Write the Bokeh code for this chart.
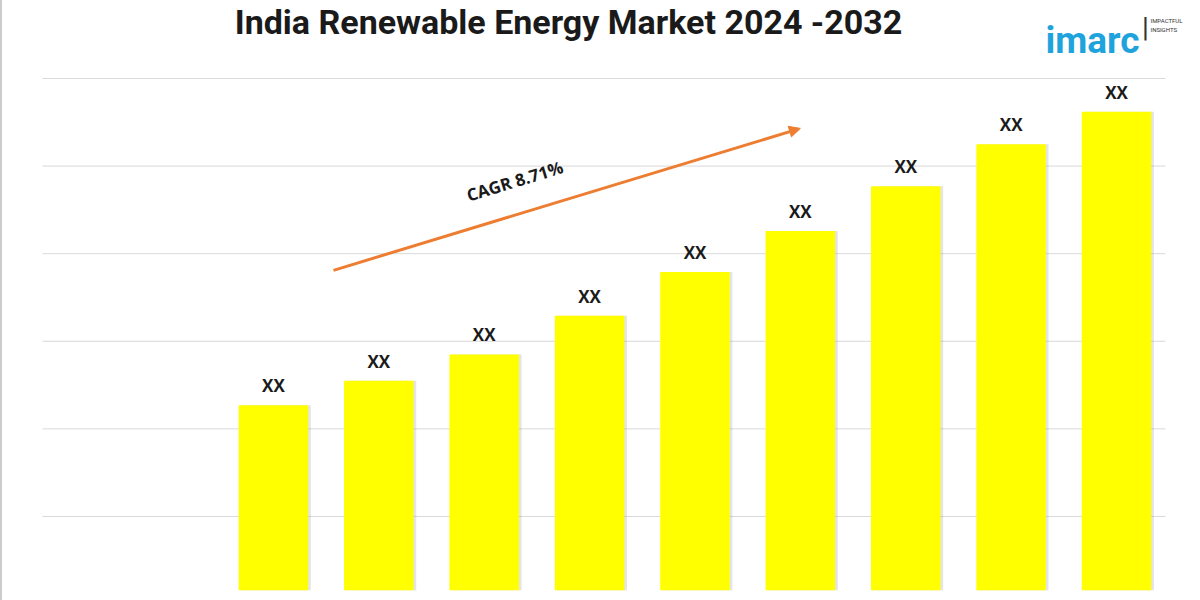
from bokeh.plotting import figure
from bokeh.models import ColumnDataSource, Label, Arrow, NormalHead
from bokeh.transform import dodge
from bokeh.embed import file_html
from bokeh.resources import INLINE
from bokeh.core.properties import value

# Market size by year (relative units; values not disclosed, shown as "XX")
years = [2024, 2025, 2026, 2027, 2028, 2029, 2030, 2031, 2032]
market_size = [2.27, 2.55, 2.85, 3.29, 3.79, 4.26, 4.77, 5.25, 5.62]
bar_labels = ["XX"] * len(years)

# Horizontal guide lines (market units) and their horizontal extent (years)
grid_levels = [1, 2, 3, 4, 5, 6]
grid_x_extent = (2021.808, 2032.465)

title_text = "India Renewable Energy Market 2024 -2032"
cagr_text = "CAGR 8.71%"

# Trend arrow endpoints (x in years, y in market units)
arrow_start = (2024.57, 3.81)
arrow_end = (2029.0, 5.43)
cagr_pos = (2026.29, 4.83)

src = ColumnDataSource(dict(year=years, size=market_size, label=bar_labels))
grid_src = ColumnDataSource(dict(y=grid_levels,
                                 x0=[grid_x_extent[0]] * len(grid_levels),
                                 x1=[grid_x_extent[1]] * len(grid_levels)))

p = figure(width=1198, height=600, output_backend="svg", toolbar_location=None,
           x_range=(2021.429, 2032.797), y_range=(0.155, 6.890),
           min_border_left=0, min_border_right=0, min_border_top=0,
           min_border_bottom=10, outline_line_color=None,
           background_fill_color="white", border_fill_color="white",
           styles={"border-left": "2px solid #cccccc"})

p.xaxis.visible = False
p.yaxis.visible = False
p.xgrid.grid_line_color = None
p.ygrid.grid_line_color = None

p.segment(x0="x0", y0="y", x1="x1", y1="y", source=grid_src,
          line_color="#d9d9d9", line_width=1)

# soft drop shadow behind the bars
p.vbar(x=dodge("year", 0.025, range=p.x_range), top="size", bottom=0,
       width=0.66, source=src, fill_color="#8a8a8a", fill_alpha=0.22,
       line_color=None)
p.vbar(x="year", top="size", bottom=0, width=0.66, source=src,
       fill_color="#FFFF00", line_color=None)

p.text(x="year", y="size", text="label", source=src, text_align="center",
       text_baseline="bottom", y_offset=-8, text_font=value("Open Sans"),
       text_font_style="bold", text_font_size="17px", text_color="#1a1a1a")

p.add_layout(Arrow(end=NormalHead(size=11, fill_color="#ED7D31",
                                  line_color="#ED7D31"),
                   x_start=arrow_start[0], y_start=arrow_start[1],
                   x_end=arrow_end[0], y_end=arrow_end[1],
                   line_color="#ED7D31", line_width=3))

p.add_layout(Label(x=cagr_pos[0], y=cagr_pos[1], text=cagr_text,
                   angle=17, angle_units="deg", text_align="center",
                   text_baseline="middle", text_font="Open Sans",
                   text_font_style="bold", text_font_size="17px",
                   text_color="#1a1a1a"))

# Title (screen units are measured from the frame's bottom-left corner)
p.add_layout(Label(x=566, y=569, x_units="screen", y_units="screen",
                   text=title_text, text_align="center",
                   text_baseline="middle", text_font="Roboto",
                   text_font_style="bold", text_font_size="34px",
                   text_color="#1a1a1a"))

# Brand mark
p.add_layout(Label(x=1090, y=550, x_units="screen", y_units="screen",
                   text="imarc", text_align="center",
                   text_baseline="alphabetic", text_font="Roboto",
                   text_font_style="bold", text_font_size="37px",
                   text_color="#1FA3DD"))
p.add_layout(Label(x=1148, y=570, x_units="screen", y_units="screen",
                   text="IMPACTFUL", text_align="left", text_baseline="middle",
                   text_font="Roboto", text_font_size="6px",
                   text_color="#333333"))
p.add_layout(Label(x=1148, y=561, x_units="screen", y_units="screen",
                   text="INSIGHTS", text_align="left", text_baseline="middle",
                   text_font="Roboto", text_font_size="6px",
                   text_color="#333333"))
p.add_layout(Label(x=1143, y=563, x_units="screen", y_units="screen",
                   text="|", text_align="center", text_baseline="middle",
                   text_font="Roboto", text_font_size="28px",
                   text_color="#333333"))

open("out.html", "w").write(file_html(p, INLINE))
